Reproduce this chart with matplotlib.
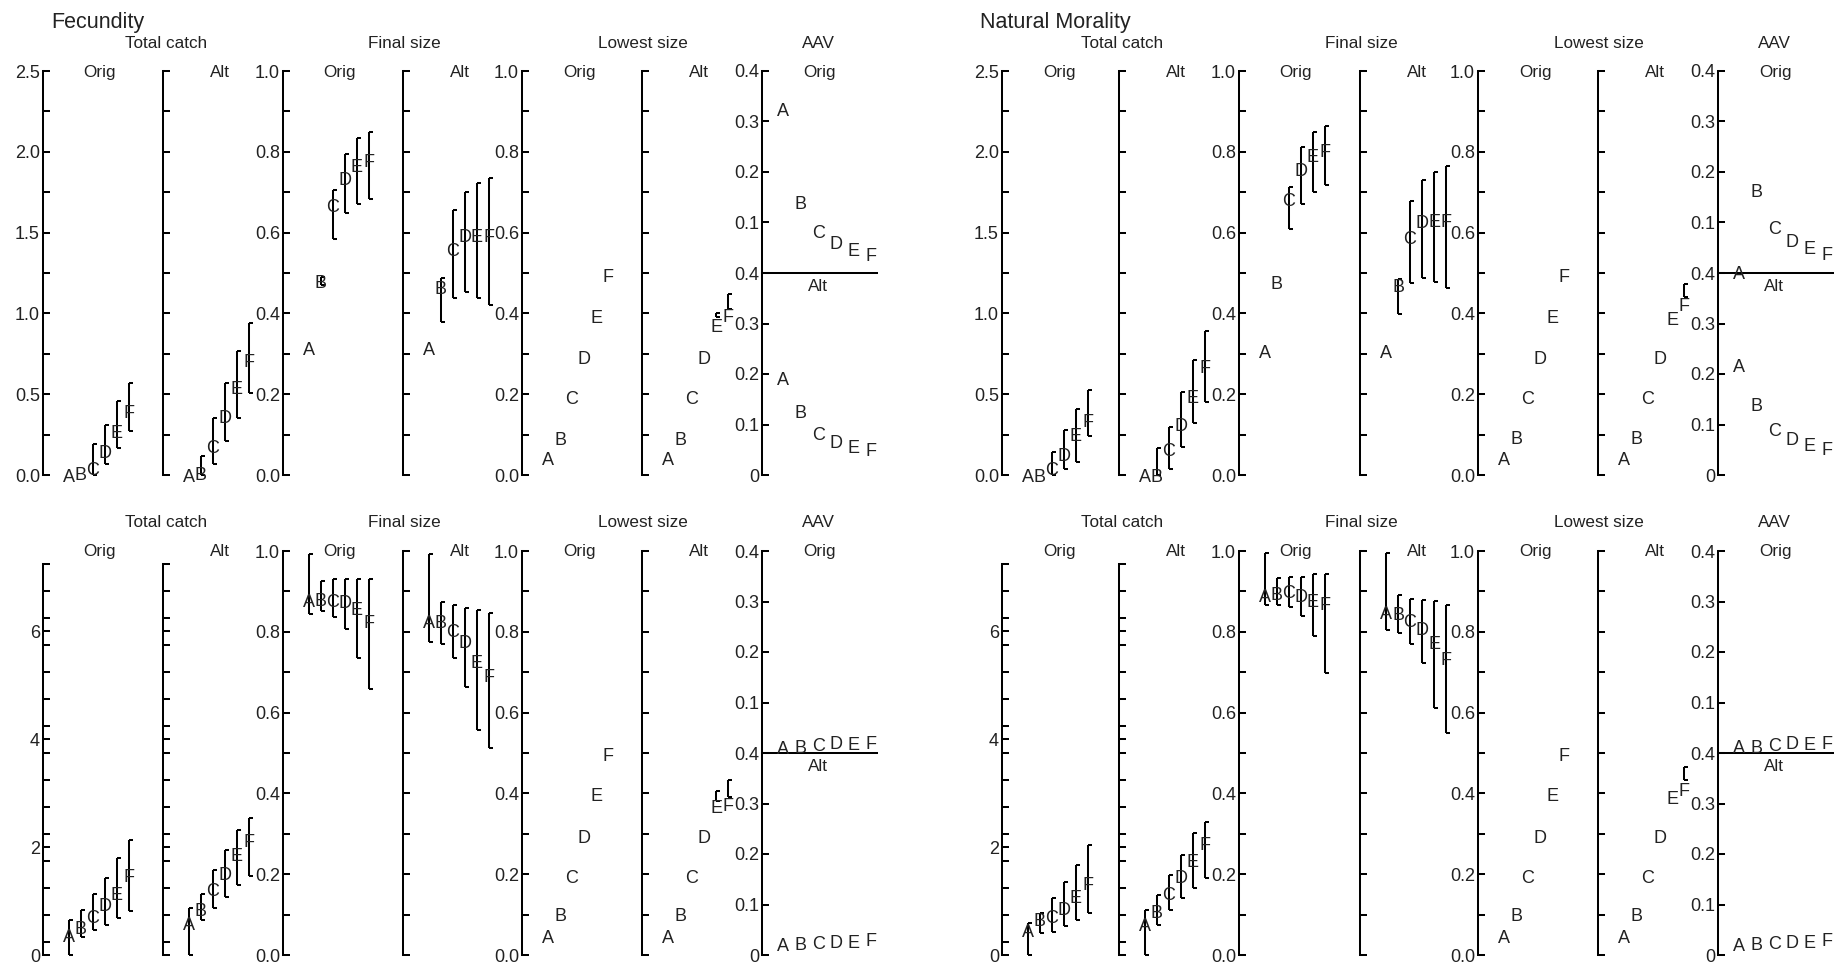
import matplotlib
matplotlib.use("Agg")
import matplotlib.pyplot as plt
import numpy as np

plt.rcParams['font.family'] = ['Liberation Sans', 'DejaVu Sans']

W, H, DPI = 1838, 966, 100

# ---------------- data ----------------
letters = ['A', 'B', 'C', 'D', 'E', 'F']
xpos = [1, 2, 3, 4, 5, 6]
group_titles = ['Fecundity', 'Natural Morality']
metric_titles = ['Total catch', 'Final size', 'Lowest size', 'AAV']
scenario_labels = ['Orig', 'Alt']

# Fecundity - upper row
fec_u_catch_orig = [0.0, 0.01, 0.04, 0.144, 0.27, 0.39]
fec_u_catch_orig_ci = [None, None, (0.0, 0.19), (0.07, 0.31), (0.17, 0.46), (0.27, 0.57)]
fec_u_catch_alt = [0.0, 0.01, 0.175, 0.36, 0.54, 0.71]
fec_u_catch_alt_ci = [None, (0.0, 0.12), (0.07, 0.35), (0.21, 0.57), (0.35, 0.77), (0.51, 0.94)]
fec_u_final_orig = [0.314, 0.479, 0.666, 0.734, 0.766, 0.778]
fec_u_final_orig_ci = [None, (0.47, 0.49), (0.584, 0.705), (0.648, 0.795), (0.672, 0.833), (0.683, 0.848)]
fec_u_final_alt = [0.314, 0.465, 0.559, 0.594, 0.594, 0.594]
fec_u_final_alt_ci = [None, (0.378, 0.487), (0.437, 0.656), (0.454, 0.701), (0.439, 0.723), (0.421, 0.735)]
fec_u_lowest_orig = [0.041, 0.091, 0.192, 0.291, 0.392, 0.495]
fec_u_lowest_orig_ci = [None, None, None, None, None, None]
fec_u_lowest_alt = [0.041, 0.091, 0.192, 0.291, 0.371, 0.396]
fec_u_lowest_alt_ci = [None, None, None, None, (0.39, 0.40), (0.41, 0.447)]
fec_u_aav_orig = [0.323, 0.14, 0.083, 0.06, 0.046, 0.037]
fec_u_aav_alt = [0.191, 0.126, 0.083, 0.066, 0.056, 0.05]

# Fecundity - lower row
fec_l_catch_orig = [0.37, 0.51, 0.72, 0.93, 1.14, 1.48]
fec_l_catch_orig_ci = [(0.0, 0.65), (0.34, 0.83), (0.46, 1.14), (0.56, 1.42), (0.68, 1.79), (0.82, 2.13)]
fec_l_catch_alt = [0.59, 0.85, 1.21, 1.52, 1.86, 2.13]
fec_l_catch_alt_ci = [(0.0, 0.87), (0.65, 1.13), (0.87, 1.58), (1.08, 1.95), (1.30, 2.32), (1.47, 2.54)]
fec_l_final_orig = [0.878, 0.88, 0.878, 0.874, 0.858, 0.825]
fec_l_final_orig_ci = [(0.845, 0.992), (0.852, 0.926), (0.837, 0.93), (0.808, 0.93), (0.734, 0.93), (0.658, 0.93)]
fec_l_final_alt = [0.825, 0.825, 0.804, 0.775, 0.726, 0.693]
fec_l_final_alt_ci = [(0.774, 0.992), (0.77, 0.874), (0.734, 0.866), (0.664, 0.858), (0.557, 0.854), (0.512, 0.847)]
fec_l_lowest_orig = [0.047, 0.1, 0.195, 0.294, 0.397, 0.496]
fec_l_lowest_orig_ci = [None, None, None, None, None, None]
fec_l_lowest_alt = [0.047, 0.1, 0.195, 0.294, 0.368, 0.372]
fec_l_lowest_alt_ci = [None, None, None, None, (0.38, 0.405), (0.39, 0.433)]
fec_l_aav_orig = [0.01, 0.012, 0.016, 0.02, 0.018, 0.02]
fec_l_aav_alt = [0.02, 0.022, 0.025, 0.026, 0.026, 0.03]

# Natural mortality - upper row
nat_u_catch_orig = [0.0, 0.0, 0.041, 0.124, 0.248, 0.34]
nat_u_catch_orig_ci = [None, None, (0.0, 0.144), (0.04, 0.278), (0.08, 0.41), (0.24, 0.525)]
nat_u_catch_alt = [0.0, 0.0, 0.155, 0.31, 0.485, 0.67]
nat_u_catch_alt_ci = [None, (0.0, 0.165), (0.04, 0.30), (0.175, 0.515), (0.32, 0.71), (0.45, 0.89)]
nat_u_final_orig = [0.305, 0.476, 0.682, 0.755, 0.79, 0.802]
nat_u_final_orig_ci = [None, None, (0.608, 0.712), (0.672, 0.813), (0.701, 0.848), (0.718, 0.865)]
nat_u_final_alt = [0.305, 0.47, 0.588, 0.627, 0.631, 0.631]
nat_u_final_alt_ci = [None, (0.399, 0.485), (0.475, 0.677), (0.487, 0.73), (0.478, 0.751), (0.462, 0.765)]
nat_u_lowest_orig = [0.041, 0.092, 0.192, 0.291, 0.392, 0.495]
nat_u_lowest_orig_ci = [None, None, None, None, None, None]
nat_u_lowest_alt = [0.041, 0.092, 0.192, 0.291, 0.388, 0.421]
nat_u_lowest_alt_ci = [None, None, None, None, None, (0.44, 0.474)]
nat_u_aav_orig = [0.0, 0.164, 0.09, 0.064, 0.051, 0.039]
nat_u_aav_alt = [0.216, 0.139, 0.09, 0.073, 0.06, 0.053]

# Natural mortality - lower row
nat_l_catch_orig = [0.45, 0.65, 0.71, 0.87, 1.08, 1.33]
nat_l_catch_orig_ci = [(0.0, 0.6), (0.4, 0.77), (0.43, 1.05), (0.53, 1.36), (0.65, 1.67), (0.77, 2.04)]
nat_l_catch_alt = [0.56, 0.8, 1.14, 1.45, 1.76, 2.07]
nat_l_catch_alt_ci = [(0.0, 0.83), (0.56, 1.11), (0.83, 1.48), (1.05, 1.86), (1.24, 2.26), (1.42, 2.47)]
nat_l_final_orig = [0.89, 0.895, 0.899, 0.89, 0.878, 0.87]
nat_l_final_orig_ci = [(0.866, 0.994), (0.866, 0.932), (0.862, 0.936), (0.839, 0.936), (0.79, 0.944), (0.699, 0.942)]
nat_l_final_alt = [0.849, 0.845, 0.829, 0.808, 0.773, 0.734]
nat_l_final_alt_ci = [(0.804, 0.994), (0.796, 0.89), (0.77, 0.882), (0.722, 0.878), (0.611, 0.876), (0.549, 0.866)]
nat_l_lowest_orig = [0.047, 0.1, 0.195, 0.294, 0.397, 0.496]
nat_l_lowest_orig_ci = [None, None, None, None, None, None]
nat_l_lowest_alt = [0.047, 0.1, 0.195, 0.294, 0.389, 0.409]
nat_l_lowest_alt_ci = [None, None, None, None, None, (0.432, 0.465)]
nat_l_aav_orig = [0.012, 0.012, 0.016, 0.02, 0.018, 0.02]
nat_l_aav_alt = [0.02, 0.022, 0.025, 0.026, 0.026, 0.03]

# ---------------- assemble ----------------
groups = [
    [  # Fecundity
        [(fec_u_catch_orig, fec_u_catch_orig_ci, fec_u_catch_alt, fec_u_catch_alt_ci),
         (fec_u_final_orig, fec_u_final_orig_ci, fec_u_final_alt, fec_u_final_alt_ci),
         (fec_u_lowest_orig, fec_u_lowest_orig_ci, fec_u_lowest_alt, fec_u_lowest_alt_ci),
         (fec_u_aav_orig, fec_u_aav_alt)],
        [(fec_l_catch_orig, fec_l_catch_orig_ci, fec_l_catch_alt, fec_l_catch_alt_ci),
         (fec_l_final_orig, fec_l_final_orig_ci, fec_l_final_alt, fec_l_final_alt_ci),
         (fec_l_lowest_orig, fec_l_lowest_orig_ci, fec_l_lowest_alt, fec_l_lowest_alt_ci),
         (fec_l_aav_orig, fec_l_aav_alt)],
    ],
    [  # Natural mortality
        [(nat_u_catch_orig, nat_u_catch_orig_ci, nat_u_catch_alt, nat_u_catch_alt_ci),
         (nat_u_final_orig, nat_u_final_orig_ci, nat_u_final_alt, nat_u_final_alt_ci),
         (nat_u_lowest_orig, nat_u_lowest_orig_ci, nat_u_lowest_alt, nat_u_lowest_alt_ci),
         (nat_u_aav_orig, nat_u_aav_alt)],
        [(nat_l_catch_orig, nat_l_catch_orig_ci, nat_l_catch_alt, nat_l_catch_alt_ci),
         (nat_l_final_orig, nat_l_final_orig_ci, nat_l_final_alt, nat_l_final_alt_ci),
         (nat_l_lowest_orig, nat_l_lowest_orig_ci, nat_l_lowest_alt, nat_l_lowest_alt_ci),
         (nat_l_aav_orig, nat_l_aav_alt)],
    ],
]

# ---------------- layout (pixels) ----------------
group_axis_x = [[43, 163, 283, 403, 522, 642, 762],
                [1002, 1119, 1239, 1360, 1478, 1598, 1718]]
group_title_x = [51, 980]
rows = [dict(top=71, bottom=475, label_y=71, metric_y=42, catch_top=71),
        dict(top=551, bottom=955, label_y=550, metric_y=521, catch_top=564)]

LW = 1.45
TXT = '#222222'
TICK_FS = 13
LET_FS = 13
LAB_FS = 12.3

fig = plt.figure(figsize=(W / DPI, H / DPI), dpi=DPI)
fig.patch.set_facecolor('white')


def px_axes(x, top, bottom, width):
    return fig.add_axes([x / W, 1 - bottom / H, width / W, (bottom - top) / H])


def style_axes(ax, ylim, ticks, labels):
    ax.set_ylim(*ylim)
    for s in ['top', 'right', 'bottom']:
        ax.spines[s].set_visible(False)
    ax.spines['left'].set_linewidth(LW)
    ax.spines['left'].set_color('black')
    ax.set_xticks([])
    ax.set_yticks(ticks)
    ax.set_yticklabels(labels)
    ax.tick_params(axis='y', direction='in', length=5, width=LW, pad=2.2,
                   labelsize=TICK_FS, labelcolor=TXT, colors='black')
    for lab in ax.get_yticklabels():
        lab.set_color(TXT)
    ax.patch.set_alpha(0)


def draw_series(ax, vals, ci, cap):
    for x, v, c, let in zip(xpos, vals, ci, letters):
        if c is not None:
            ax.vlines(x, c[0], c[1], color='black', lw=LW, clip_on=False)
            ax.hlines([c[0], c[1]], x - 0.02, x + cap, color='black', lw=LW, clip_on=False)
        ax.text(x, v, let, ha='center', va='center_baseline', fontsize=LET_FS,
                color=TXT, clip_on=False)


PANEL_W = 110
PX_UNIT = 12.0
A_OFF = 26.0
xl_lo = 1 - A_OFF / PX_UNIT
xl = (xl_lo, xl_lo + PANEL_W / PX_UNIT)
CAP = 3.8 / PX_UNIT

AAV_W = 115
AAV_UNIT = 17.6
AAV_OFF = 21.0
axl_lo = 1 - AAV_OFF / AAV_UNIT
axl = (axl_lo, axl_lo + AAV_W / AAV_UNIT)

for g, (gx, gdata) in enumerate(zip(group_axis_x, groups)):
    fig.text(group_title_x[g] / W, 1 - 28 / H, group_titles[g], fontsize=15.5,
             color=TXT, ha='left', va='baseline')
    for r, (row, rdata) in enumerate(zip(rows, gdata)):
        top, bottom = row['top'], row['bottom']
        # metric titles
        title_x = [gx[1] + 3, gx[3] + 1, gx[5] + 1, gx[6] + 56]
        for mt, tx in zip(metric_titles, title_x):
            fig.text(tx / W, 1 - row['metric_y'] / H, mt, fontsize=LAB_FS, color=TXT,
                     ha='center', va='center_baseline')
        # scenario labels
        for k in range(7):
            lab = scenario_labels[k % 2] if k < 6 else scenario_labels[0]
            fig.text((gx[k] + 57) / W, 1 - row['label_y'] / H, lab, fontsize=LAB_FS,
                     color=TXT, ha='center', va='center_baseline')

        for m in range(3):
            vo, co, va_, ca = rdata[m]
            for k, (vals, ci) in enumerate([(vo, co), (va_, ca)]):
                xpx = gx[2 * m + k]
                if m == 0:
                    ax = px_axes(xpx, row['catch_top'], bottom, PANEL_W)
                    if r == 0:
                        ticks = list(np.round(np.arange(0, 2.51, 0.25), 2))
                        labels = ['%.1f' % t if abs(t * 2 - round(t * 2)) < 1e-6 else '' for t in ticks]
                        ylim = (0, 2.5)
                    else:
                        ticks = sorted(set([0.0, 2.0, 4.0, 6.0] +
                                           list(np.round(np.arange(0.25, 7.26, 0.5), 2))))
                        labels = ['%d' % t if t in (0.0, 2.0, 4.0, 6.0) else '' for t in ticks]
                        ylim = (0, 7.25)
                else:
                    ax = px_axes(xpx, top, bottom, PANEL_W)
                    ticks = list(np.round(np.arange(0, 1.01, 0.1), 2))
                    labels = ['%.1f' % t if round(t * 10) % 2 == 0 else '' for t in ticks]
                    ylim = (0, 1)
                if k == 1:
                    labels = [''] * len(ticks)
                style_axes(ax, ylim, ticks, labels)
                ax.set_xlim(*xl)
                draw_series(ax, vals, ci, CAP)

        # AAV: stacked Orig (upper half) / Alt (lower half)
        aav_o, aav_a = rdata[3]
        mid = (top + bottom) / 2.0
        ax_o = px_axes(gx[6], top, mid, AAV_W)
        style_axes(ax_o, (0, 0.4), [0, 0.1, 0.2, 0.3, 0.4], ['', '0.1', '0.2', '0.3', '0.4'])
        ax_o.spines['bottom'].set_visible(True)
        ax_o.spines['bottom'].set_linewidth(LW)
        ax_o.spines['bottom'].set_color('black')
        ax_o.set_xlim(*axl)
        draw_series(ax_o, aav_o, [None] * 6, 0)
        ax_a = px_axes(gx[6], mid, bottom, AAV_W)
        style_axes(ax_a, (0, 0.4), [0, 0.1, 0.2, 0.3, 0.4], ['0', '0.1', '0.2', '0.3', '0.4'])
        ax_a.set_xlim(*axl)
        draw_series(ax_a, aav_a, [None] * 6, 0)
        fig.text((gx[6] + 56) / W, 1 - (mid + 12) / H, scenario_labels[1], fontsize=LAB_FS,
                 color=TXT, ha='center', va='center_baseline')

fig.savefig('out.png', dpi=DPI, facecolor='white')
